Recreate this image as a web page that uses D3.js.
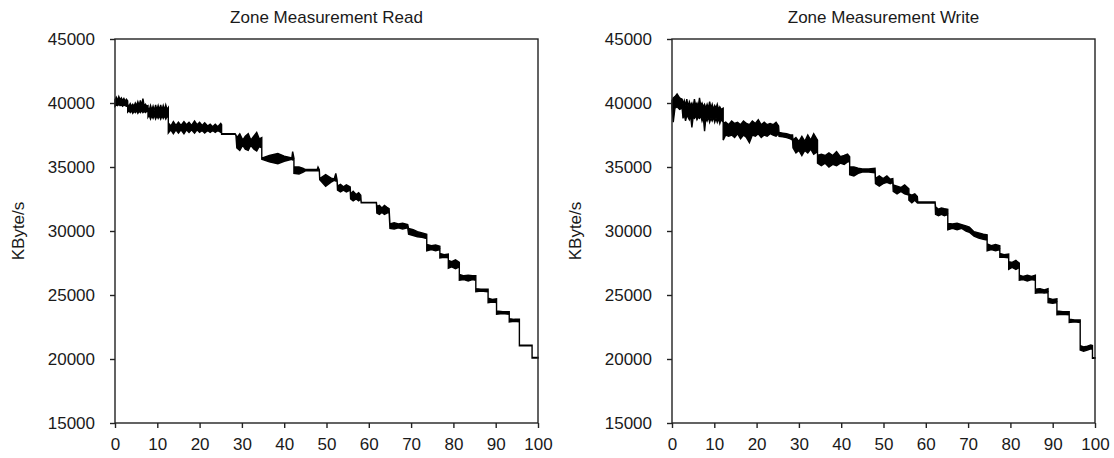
<!DOCTYPE html>
<html>
<head>
<meta charset="utf-8">
<script src="https://cdn.jsdelivr.net/npm/d3@7"></script>
<style>
  body { margin: 0; background: #fff; }
  svg { display: block; font-family: "Liberation Sans", Arial, sans-serif; }
</style>
</head>
<body>
<div id="chart"></div>
<script>
const titles = ["Zone Measurement Read", "Zone Measurement Write"];
const yLabel = "KByte/s";
const xTicks = [0, 10, 20, 30, 40, 50, 60, 70, 80, 90, 100];
const yTicks = [15000, 20000, 25000, 30000, 35000, 40000, 45000];

const readData = [
  [0, 39750, 40250], [0.3, 39850, 40450], [0.6, 39800, 40200], [0.9, 39900, 40500], [1.2, 39800, 40250], [1.5, 39850, 40400], [1.8, 39750, 40200], [2.1, 39850, 40350], [2.4, 39800, 40150], [2.7, 39750, 40300], [3, 39800, 40150],
  [3, 39300, 39900], [3.3, 39400, 39750], [3.6, 39250, 39950], [3.9, 39400, 39750], [4.2, 39200, 39900], [4.5, 39350, 39750], [4.8, 39250, 40000], [5.1, 39400, 39800], [5.4, 39200, 40100], [5.7, 39350, 39800], [6, 39250, 40200], [6.3, 39400, 39800], [6.6, 39250, 40350], [6.9, 39350, 39750], [7.2, 39250, 39900], [7.5, 39350, 39750], [7.8, 39300, 39800],
  [7.8, 38900, 39650], [8.1, 39050, 39450], [8.4, 38750, 39800], [8.7, 39000, 39450], [9, 38800, 39750], [9.3, 39050, 39400], [9.6, 38750, 39850], [9.9, 39000, 39450], [10.2, 38800, 39800], [10.5, 39000, 39450], [10.8, 38750, 39850], [11.1, 39000, 39450], [11.4, 38800, 39800], [11.7, 39000, 39450], [12, 38750, 39850], [12.3, 38950, 39500], [12.6, 38900, 39650],
  [12.6, 37650, 38450], [13.2, 37900, 38200], [13.8, 37600, 38550], [14.4, 37900, 38250], [15, 37650, 38500], [15.6, 37900, 38250], [16.3, 37600, 38550], [16.9, 37900, 38300], [17.5, 37700, 38500], [18.1, 37900, 38250], [18.8, 37650, 38600], [19.4, 37900, 38300], [20, 37700, 38500], [20.6, 37850, 38250], [21.2, 37650, 38450], [21.9, 37850, 38200], [22.5, 37700, 38350], [23.1, 37850, 38150], [23.7, 37700, 38350], [24.3, 37850, 38150], [25, 37700, 38400], [25.2, 37750, 38300],
  [25.2, 37560, 37600], [28.4, 37560, 37600], [28.6, 37450, 37500],
  [28.8, 36500, 37300], [29.5, 36300, 37600], [30.2, 36700, 37100], [30.8, 36400, 37400], [31.5, 36300, 37600], [32.1, 36700, 37100], [32.8, 36400, 37400], [33.5, 36250, 37700], [34.1, 36600, 37200], [34.7, 36500, 37300],
  [34.7, 35600, 35700], [36.5, 35400, 35900], [38.5, 35250, 36050], [40, 35450, 35850], [41.8, 35600, 35700], [42, 35550, 36200], [42.3, 35600, 35700],
  [42.3, 34500, 35000], [43.5, 34450, 35000], [44.5, 34600, 34900], [45, 34700, 34800], [47.8, 34700, 34800], [48, 34700, 35000], [48.3, 34700, 34800],
  [48.4, 34000, 34100], [49.8, 33500, 34400], [51, 33800, 34150], [51.8, 33950, 34050], [52.2, 33900, 34500], [52.5, 33900, 34000],
  [52.6, 33200, 33500], [53.3, 33050, 33650], [54, 33200, 33450], [54.7, 33050, 33600], [55.6, 33200, 33450],
  [55.7, 32500, 32900], [56.3, 32350, 33100], [57, 32500, 32850], [57.6, 32350, 33000], [58.1, 32500, 32800],
  [58.2, 32200, 32240], [61.8, 32200, 32240],
  [61.9, 31400, 31900], [62.5, 31300, 32000], [63.1, 31450, 31800], [63.7, 31300, 32000], [64.3, 31400, 31850], [64.8, 31450, 31750],
  [65, 30200, 30550], [66, 30150, 30650], [67, 30250, 30550], [68, 30150, 30600], [69.2, 30250, 30500],
  [69.4, 29750, 30200], [70.5, 29650, 30100], [71.5, 29550, 29950], [72.6, 29500, 29850], [73.7, 29400, 29750],
  [73.7, 28450, 28950], [74.8, 28550, 28850], [75.8, 28450, 28900], [76.8, 28550, 28800],
  [76.8, 27900, 28250], [77.8, 27950, 28150], [78.8, 27900, 28200],
  [78.8, 27100, 27700], [79.6, 27200, 27600], [80.5, 27050, 27750], [81.4, 27200, 27550],
  [81.4, 26150, 26600], [82.5, 26200, 26500], [83.5, 26100, 26550], [84.5, 26200, 26500], [85.3, 26150, 26500],
  [85.3, 25250, 25500], [86.5, 25300, 25450], [88.2, 25250, 25450],
  [88.2, 24400, 24750], [89.2, 24450, 24650], [90.2, 24400, 24700],
  [90.2, 23500, 23750], [91.7, 23550, 23700], [93.2, 23500, 23700],
  [93.2, 22900, 23150], [94.4, 22950, 23100], [95.6, 22900, 23100],
  [95.6, 21030, 21070], [98.6, 21030, 21070],
  [98.6, 20080, 20120], [100, 20080, 20120]
];

const writeData = [
  [0, 39600, 40200], [0.3, 38500, 40400], [0.7, 39600, 40500], [1.2, 39700, 40700], [1.8, 39500, 40400], [2.4, 39600, 40300],
  [2.6, 38800, 39900], [2.9, 39100, 40200], [3.2, 38600, 39800], [3.5, 39000, 40300], [3.8, 38900, 39700], [4.1, 38700, 40100], [4.4, 39000, 39800], [4.7, 38100, 40000], [5, 38900, 39700], [5.3, 38800, 40300], [5.6, 39000, 39800], [5.9, 38700, 40000], [6.2, 38900, 39700], [6.5, 38800, 40400], [6.8, 39000, 39800], [7.1, 38600, 40000], [7.4, 38900, 39700], [7.7, 37800, 39900], [8, 38800, 39600], [8.3, 38600, 39900], [8.6, 38900, 39600], [8.9, 38500, 40100], [9.2, 38800, 39600], [9.5, 38600, 39900], [9.8, 38900, 39500], [10.1, 38500, 39800], [10.4, 38800, 39600], [10.7, 38500, 39900], [11, 38800, 39500], [11.3, 38400, 39700], [11.6, 38700, 39500], [12.1, 38500, 39600],
  [12.1, 37100, 38400], [12.7, 37500, 38500], [13.4, 37400, 38300], [14.1, 37500, 38600], [14.8, 37300, 38400], [15.5, 37600, 38500], [16.2, 37200, 38300], [16.9, 37500, 38600], [17.6, 37300, 38400], [18.3, 36900, 38300], [19, 37500, 38600], [19.7, 37400, 38400], [20.4, 37600, 38700], [21.1, 37300, 38300], [21.8, 37500, 38500], [22.5, 37400, 38300], [23.2, 37600, 38400], [23.9, 37500, 38300], [24.6, 37400, 38500], [25.2, 37600, 38200],
  [25.3, 37400, 37700], [26.2, 37350, 37650], [27.1, 37300, 37600], [28, 37200, 37500], [28.5, 37100, 37500],
  [28.6, 36500, 37100], [29.3, 36100, 37300], [30, 36300, 37000], [30.7, 35900, 37400], [31.4, 36300, 37000], [32.1, 36100, 37500], [32.8, 36400, 37100], [33.5, 36000, 37600], [34.4, 36200, 37100],
  [34.4, 35300, 35900], [35.3, 35100, 36000], [36.2, 35300, 35900], [37.1, 35000, 36100], [38, 35200, 35900], [38.9, 35100, 36200], [39.8, 35300, 35800], [40.7, 35200, 35900], [41.5, 35400, 36000], [42, 35400, 35800],
  [42, 34400, 35000], [43, 34300, 35000], [44, 34500, 34900], [45, 34600, 34850], [46.5, 34600, 34850], [48, 34550, 34900],
  [48.1, 33700, 34100], [49, 33500, 34300], [49.9, 33700, 34100], [50.8, 33800, 34300], [51.6, 33700, 34050], [52.2, 33800, 34100],
  [52.3, 33100, 33600], [53.2, 32900, 33500], [54.1, 33100, 33400], [55, 32900, 33600], [56, 32800, 33300],
  [56, 32400, 32900], [56.7, 32200, 32800], [57.4, 32400, 32900], [58, 32200, 32700],
  [58.1, 32180, 32260], [62.2, 32180, 32260],
  [62.3, 31300, 31900], [63, 31200, 31700], [63.7, 31300, 31800], [64.4, 31200, 31750], [65.2, 31300, 31700],
  [65.2, 30100, 30600], [66.3, 30200, 30550], [67.4, 30100, 30600], [68.5, 30200, 30500], [69.5, 30000, 30400], [70.3, 29900, 30300],
  [71.4, 29600, 29950], [72.5, 29450, 29850], [73.6, 29350, 29750], [74.5, 29300, 29700],
  [74.5, 28450, 29000], [75.5, 28550, 28850], [76.5, 28450, 28950], [77.5, 28550, 28850],
  [77.5, 27950, 28250], [78.5, 27950, 28150], [79.6, 27900, 28200],
  [79.6, 27000, 27600], [80.4, 27150, 27550], [81.3, 27000, 27700], [82.1, 27150, 27500],
  [82.1, 26150, 26550], [83, 26200, 26450], [84, 26100, 26550], [85, 26200, 26450], [85.9, 26150, 26550],
  [85.9, 25150, 25450], [87, 25200, 25500], [88, 25150, 25400], [88.9, 25200, 25500],
  [88.9, 24400, 24750], [90, 24350, 24650], [91, 24400, 24700],
  [91, 23450, 23750], [92.4, 23500, 23700], [93.9, 23450, 23700],
  [93.9, 22850, 23100], [95.2, 22900, 23050], [96.5, 22850, 23050],
  [96.5, 20700, 21050], [97.3, 20600, 20950], [98.2, 20700, 21000], [99, 20800, 21100], [99.4, 20750, 21050],
  [99.4, 20060, 20100], [100, 20060, 20100]
];

const width = 1114;
const height = 458;
const plotTop = 39;
const plotBottom = 423;
const plotWidth = 423;

const svg = d3.select("#chart").append("svg")
  .attr("width", width)
  .attr("height", height);

function drawPanel(left, title, data) {
  const x = d3.scaleLinear().domain([0, 100]).range([left, left + plotWidth]);
  const y = d3.scaleLinear().domain([15000, 45000]).range([plotBottom, plotTop]);
  const g = svg.append("g");

  // measured rate band
  const area = d3.area()
    .x(d => x(d[0]))
    .y0(d => y(d[1]))
    .y1(d => y(d[2]));

  g.append("path")
    .datum(data)
    .attr("d", area)
    .style("fill", "#000")
    .style("stroke", "#000")
    .style("stroke-width", 1.4)
    .style("stroke-linejoin", "miter");

  // frame
  g.append("rect")
    .attr("x", left)
    .attr("y", plotTop)
    .attr("width", plotWidth)
    .attr("height", plotBottom - plotTop)
    .style("fill", "none")
    .style("stroke", "#222")
    .style("stroke-width", 1.4);

  const yAxis = g.append("g")
    .attr("transform", `translate(${left},0)`)
    .call(d3.axisLeft(y).tickValues(yTicks).tickSize(5).tickPadding(15).tickFormat(d3.format("d")));

  const xAxis = g.append("g")
    .attr("transform", `translate(0,${plotBottom})`)
    .call(d3.axisBottom(x).tickValues(xTicks).tickSize(5).tickPadding(10).tickFormat(d3.format("d")));

  [yAxis, xAxis].forEach(a => {
    a.select(".domain").remove();
    a.selectAll("line").style("stroke", "#222").style("stroke-width", 1.4);
    a.selectAll("text")
      .style("font-family", "'Liberation Sans', Arial, sans-serif")
      .style("font-size", "17px")
      .style("fill", "#1a1a1a");
  });

  g.append("text")
    .attr("x", left + plotWidth / 2)
    .attr("y", 23)
    .attr("text-anchor", "middle")
    .style("font-size", "17px")
    .style("fill", "#1a1a1a")
    .text(title);

  g.append("text")
    .attr("transform", `translate(${left - 97},${(plotTop + plotBottom) / 2}) rotate(-90)`)
    .attr("text-anchor", "middle")
    .attr("dy", "0.35em")
    .style("font-size", "17px")
    .style("fill", "#1a1a1a")
    .text(yLabel);
}

drawPanel(115, titles[0], readData);
drawPanel(672, titles[1], writeData);
</script>
</body>
</html>
